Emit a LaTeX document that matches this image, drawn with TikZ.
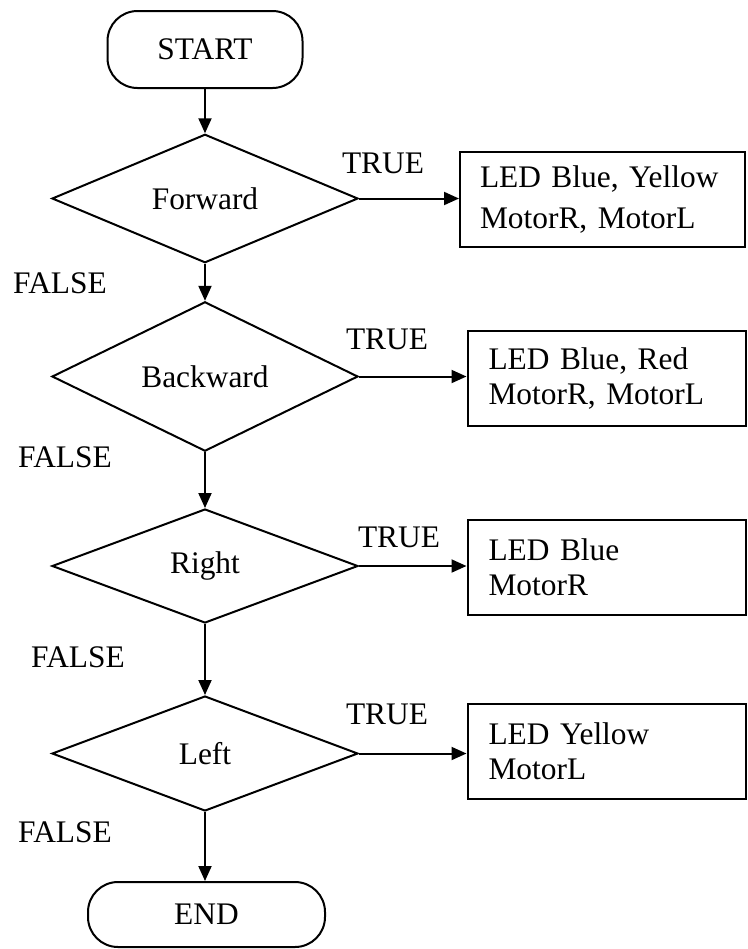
\documentclass[tikz,border=0pt]{standalone}
\usepackage{fontspec}
\setmainfont{Liberation Serif}
\usetikzlibrary{shapes.geometric,arrows.meta}
\begin{document}
\begin{tikzpicture}[x=0.5pt,y=-0.5pt,
  every node/.style={font=\fontsize{15.7}{17.5}\selectfont},
  term/.style={draw,line width=1pt,rounded corners=15pt,inner sep=0pt},
  decide/.style={draw,line width=1pt,diamond,inner sep=0pt,minimum width=153pt},
  actbox/.style={draw,line width=1pt,rectangle,align=left,inner ysep=0pt,minimum height=47.5pt},
  lbl/.style={inner sep=0pt},
  flow/.style={line width=1pt,-{Triangle[length=7.5pt,width=6.5pt]}}]
\useasboundingbox (0,0) rectangle (748,949);
\node[term,minimum width=97.5pt,minimum height=38.5pt] (start) at (205,49.5) {START};
\node[decide,minimum height=58.5pt] (d1) at (205,198.5) {Forward};
\node[decide,minimum height=57.5pt] (d2) at (205,376.5) {Backward};
\node[decide,minimum height=57pt] (d3) at (205,566) {Right};
\node[decide,minimum height=57.5pt] (d4) at (205,753.5) {Left};
\node[term,minimum width=118.5pt,minimum height=32.5pt] (end) at (206.5,914.5) {END};
\node[actbox,minimum width=142.5pt,text width=122.5pt,inner xsep=10pt,font=\fontsize{15.7}{20.5}\selectfont] (b1) at (602.5,199.5) {LED Blue, Yellow\\MotorR, MotorL};
\node[actbox,minimum width=138.5pt,text width=118pt,inner xsep=10.5pt] (b2) at (606.5,378.5) {LED Blue, Red\\MotorR, MotorL};
\node[actbox,minimum width=138.5pt,text width=118pt,inner xsep=10.5pt] (b3) at (606.5,567.5) {LED Blue\\MotorR};
\node[actbox,minimum width=138.5pt,text width=118pt,inner xsep=10.5pt] (b4) at (606.5,751) {LED Yellow\\MotorL};
\node[lbl] (t1) at (383,163) {TRUE};
\node[lbl] (t2) at (387,339) {TRUE};
\node[lbl] (t3) at (399,537) {TRUE};
\node[lbl] (t4) at (387,714) {TRUE};
\node[lbl] (f1) at (60,283) {FALSE};
\node[lbl] (f2) at (65,457) {FALSE};
\node[lbl] (f3) at (78,657) {FALSE};
\node[lbl] (f4) at (65,832) {FALSE};
\draw[flow] (start.south) -- (d1.north);
\draw[flow] (d1.south) -- (d2.north);
\draw[flow] (d2.south) -- (d3.north);
\draw[flow] (d3.south) -- (d4.north);
\draw[flow] (d4.south) -- (d4.south |- end.north);
\draw[flow] (d1.east) -- (d1.east -| b1.west);
\draw[flow] (d2.east) -- (d2.east -| b2.west);
\draw[flow] (d3.east) -- (d3.east -| b3.west);
\draw[flow] (d4.east) -- (d4.east -| b4.west);
\end{tikzpicture}
\end{document}
